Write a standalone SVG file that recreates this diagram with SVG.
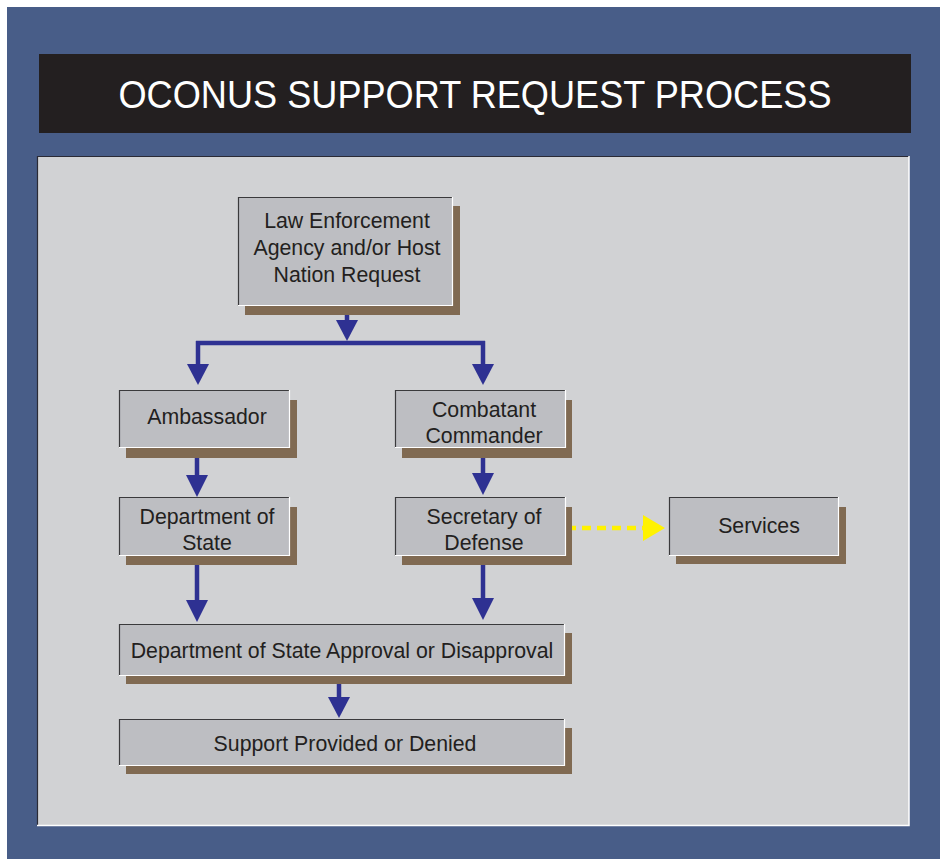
<svg xmlns="http://www.w3.org/2000/svg" width="940" height="859" viewBox="0 0 940 859">
<style>
.t{font-family:"Liberation Sans",Arial,sans-serif;font-size:21.3px;fill:#231f20;text-anchor:middle}
.sh{fill:#806a52}
.bx{fill:#bdbec2}
.dk{stroke:#3a3a3c;stroke-width:1.2;fill:none}
.lt{stroke:#ffffff;stroke-width:1.2;fill:none}
.c{stroke:#2e3192;stroke-width:4.5;fill:none}
.ah{fill:#2e3192}
</style>
<rect x="0" y="0" width="940" height="859" fill="#ffffff"/>
<rect x="7" y="7" width="933" height="852" fill="#485d88"/>
<g id="title">
<rect x="39" y="54" width="872" height="79" fill="#231f20"/>
<text x="475" y="108" font-family="Liberation Sans,Arial,sans-serif" font-size="38.5" fill="#ffffff" text-anchor="middle" textLength="713" lengthAdjust="spacingAndGlyphs">OCONUS SUPPORT REQUEST PROCESS</text>
</g>
<g id="panel">
<rect x="37" y="156" width="872" height="670" fill="#d1d2d4"/>
<path d="M37.5,826 V156.5 H909" stroke="#2a2a35" stroke-width="1.2" fill="none"/>
<path d="M37,825.5 H909 V156" stroke="#ffffff" stroke-width="1.5" fill="none"/>
</g>
<g id="connectors">
<path class="c" d="M347,306 V330"/>
<path class="ah" d="M336,320 H358 L347,341 Z"/>
<path class="c" d="M196,343 H485"/>
<path class="c" d="M198,341 V370"/>
<path class="ah" d="M187,364 H209 L198,385 Z"/>
<path class="c" d="M483,341 V370"/>
<path class="ah" d="M472,364 H494 L483,385 Z"/>
<path class="c" d="M197,448 V480"/>
<path class="ah" d="M186,475 H208 L197,497 Z"/>
<path class="c" d="M483,448 V478"/>
<path class="ah" d="M472,473 H494 L483,495 Z"/>
<path class="c" d="M197,556 V605"/>
<path class="ah" d="M186,600 H208 L197,622 Z"/>
<path class="c" d="M483,556 V602"/>
<path class="ah" d="M472,598 H494 L483,620 Z"/>
<path class="c" d="M339,676 V700"/>
<path class="ah" d="M328,697 H350 L339,718 Z"/>
<path d="M567,528 H645" stroke="#fff200" stroke-width="4.5" stroke-dasharray="9,6" fill="none"/>
<path d="M643,515 L665,528 L643,541 Z" fill="#fff200"/>
</g>
<g id="law">
<rect class="sh" x="245" y="206" width="215" height="109"/>
<rect class="bx" x="238" y="197" width="215" height="109"/>
<path class="dk" d="M238.5,306 V197.5 H453"/><path class="lt" d="M238,305.5 H452.5 V197"/>
<text class="t" x="347" y="228">Law Enforcement</text>
<text class="t" x="347" y="255">Agency and/or Host</text>
<text class="t" x="347" y="282">Nation Request</text>
</g>
<g id="ambassador">
<rect class="sh" x="126" y="400" width="171" height="58"/>
<rect class="bx" x="119" y="390" width="171" height="58"/>
<path class="dk" d="M119.5,448 V390.5 H290"/><path class="lt" d="M119,447.5 H289.5 V390"/>
<text class="t" x="207" y="424">Ambassador</text>
</g>
<g id="combatant">
<rect class="sh" x="402" y="400" width="170" height="58"/>
<rect class="bx" x="395" y="390" width="171" height="58"/>
<path class="dk" d="M395.5,448 V390.5 H566"/><path class="lt" d="M395,447.5 H565.5 V390"/>
<text class="t" x="484" y="417">Combatant</text>
<text class="t" x="484" y="443">Commander</text>
</g>
<g id="dos">
<rect class="sh" x="126" y="507" width="171" height="58"/>
<rect class="bx" x="119" y="497" width="171" height="59"/>
<path class="dk" d="M119.5,556 V497.5 H290"/><path class="lt" d="M119,555.5 H289.5 V497"/>
<text class="t" x="207" y="524">Department of</text>
<text class="t" x="207" y="550">State</text>
</g>
<g id="secdef">
<rect class="sh" x="402" y="507" width="170" height="58"/>
<rect class="bx" x="395" y="497" width="171" height="59"/>
<path class="dk" d="M395.5,556 V497.5 H566"/><path class="lt" d="M395,555.5 H565.5 V497"/>
<text class="t" x="484" y="524">Secretary of</text>
<text class="t" x="484" y="550">Defense</text>
</g>
<g id="services">
<rect class="sh" x="676" y="507" width="170" height="57"/>
<rect class="bx" x="669" y="497" width="170" height="59"/>
<path class="dk" d="M669.5,556 V497.5 H839"/><path class="lt" d="M669,555.5 H838.5 V497"/>
<text class="t" x="759" y="533">Services</text>
</g>
<g id="approval">
<rect class="sh" x="126" y="633" width="446" height="51"/>
<rect class="bx" x="119" y="624" width="446" height="52"/>
<path class="dk" d="M119.5,676 V624.5 H565"/><path class="lt" d="M119,675.5 H564.5 V624"/>
<text class="t" x="342" y="658">Department of State Approval or Disapproval</text>
</g>
<g id="support">
<rect class="sh" x="126" y="728" width="446" height="46"/>
<rect class="bx" x="119" y="719" width="446" height="47"/>
<path class="dk" d="M119.5,766 V719.5 H565"/><path class="lt" d="M119,765.5 H564.5 V719"/>
<text class="t" x="345" y="751">Support Provided or Denied</text>
</g>
</svg>
